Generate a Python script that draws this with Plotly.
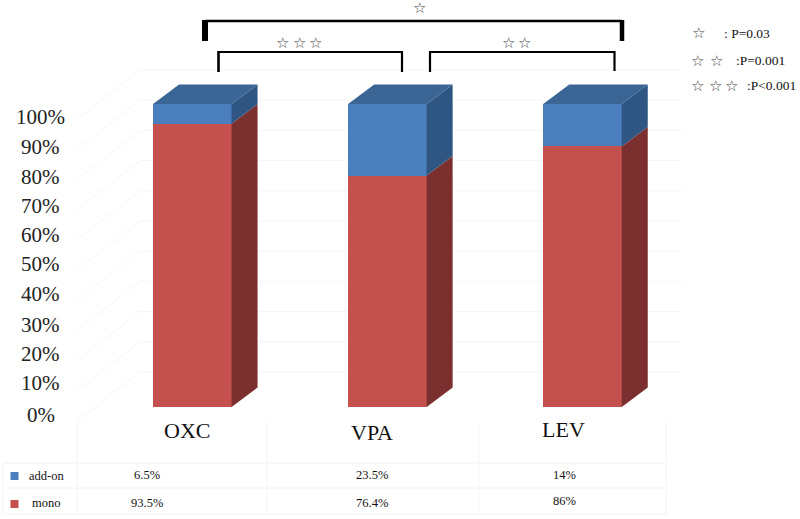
import plotly.graph_objects as go

# ---- data ----
categories = ["OXC", "VPA", "LEV"]
mono = [93.5, 76.4, 86.0]
add_on = [6.5, 23.6, 14.0]
mono_labels = ["93.5%", "76.4%", "86%"]
add_on_labels = ["6.5%", "23.5%", "14%"]
tick_values = [0, 10, 20, 30, 40, 50, 60, 70, 80, 90, 100]
tick_labels = ["0%", "10%", "20%", "30%", "40%", "50%", "60%", "70%", "80%", "90%", "100%"]

# ---- geometry / style ----
W, H = 800, 519
Y0_PX, Y_SCALE = 407.0, 3.03     # pixel of 0 %, pixels per percent
X0_PX, X_STEP = 192.3, 195.1     # pixel of first category, pixels per category
BAR_PX = 78.5
DEPTH_X_PX, DEPTH_Y_PX = 26.0, 19.5
TICK_LABEL_PX = [415, 383, 354, 325, 294, 264, 235, 206, 177, 147, 117]

RED, RED_SIDE = "#C4514E", "#7B2F2F"
BLUE, BLUE_SIDE, BLUE_TOP = "#4A7EBD", "#2F5682", "#3A6594"
SERIF = "Liberation Serif"

dx = DEPTH_X_PX / X_STEP
dy = DEPTH_Y_PX / Y_SCALE
half = BAR_PX / X_STEP / 2
xs = list(range(len(categories)))


def px(x):
    return x / W


def py(y):
    return 1 - y / H


def rect_poly(i, lo, hi):
    r = i + half
    return [r, r + dx, r + dx, r, r], [lo, lo + dy, hi + dy, hi, lo]


fig = go.Figure()

# side and top faces
for i in xs:
    total = mono[i] + add_on[i]
    for lo, hi, col in ((0, mono[i], RED_SIDE), (mono[i], total, BLUE_SIDE)):
        sx, sy = rect_poly(i, lo, hi)
        fig.add_trace(go.Scatter(x=sx, y=sy, mode="lines", fill="toself", fillcolor=col,
                                 line=dict(width=0, color=col), hoverinfo="skip", showlegend=False))
    l, r = i - half, i + half
    fig.add_trace(go.Scatter(x=[l, r, r + dx, l + dx, l], y=[total, total, total + dy, total + dy, total],
                             mode="lines", fill="toself", fillcolor=BLUE_TOP,
                             line=dict(width=0, color=BLUE_TOP), hoverinfo="skip", showlegend=False))

# front faces
fig.add_trace(go.Bar(x=xs, y=mono, name="mono", marker=dict(color=RED, line_width=0),
                     width=BAR_PX / X_STEP, showlegend=False))
fig.add_trace(go.Bar(x=xs, y=add_on, name="add-on", marker=dict(color=BLUE, line_width=0),
                     width=BAR_PX / X_STEP, showlegend=False))

shapes = []
GRID = "#F6F6F8"


def pline(x0, y0, x1, y1, color=GRID, width=1, layer="below"):
    shapes.append(dict(type="line", xref="paper", yref="paper", x0=px(x0), y0=py(y0), x1=px(x1), y1=py(y1),
                       line=dict(color=color, width=width), layer=layer))


# back wall gridlines and floor-to-wall diagonals
for v in tick_values:
    wall_y = 372 - v * 3.02
    pline(140, wall_y, 682, wall_y)
    pline(77, wall_y + 49, 140, wall_y)

# table rules
for y in (463, 488, 514):
    pline(3, y, 666, y, "#F0F2F8", 1)
for x in (77, 267, 479, 666):
    pline(x, 422, x, 514, "#F3F4F8", 1)
pline(3, 463, 3, 514, "#F3F4F8", 1)

# significance brackets
BK = "#000000"
pline(205, 21, 622, 21, BK, 2.5, "above")
pline(205, 41, 205, 20, BK, 6, "above")
pline(622, 41, 622, 20, BK, 4.5, "above")
pline(218.5, 52, 402, 52, BK, 2.2, "above")
pline(218.5, 72, 218.5, 51, BK, 2.6, "above")
pline(402, 72, 402, 51, BK, 2.2, "above")
pline(430, 52, 614.5, 52, BK, 2.2, "above")
pline(430, 72, 430, 51, BK, 2.2, "above")
pline(614.5, 71, 614.5, 51, BK, 2.2, "above")

# legend keys in table
for y, col in ((476, BLUE), (504, RED)):
    shapes.append(dict(type="rect", xref="paper", yref="paper", x0=px(10.5), x1=px(18.5), y0=py(y - 4), y1=py(y + 4),
                       fillcolor=col, line_width=0))

ann = []


def text(x, y, s, size, color="#222222", font=SERIF, anchor="center"):
    ann.append(dict(xref="paper", yref="paper", x=px(x), y=py(y), text=s, showarrow=False,
                    xanchor=anchor, yanchor="middle", font=dict(family=font, size=size, color=color)))


# value axis labels (centred in a column, as in the reference)
for lab, y in zip(tick_labels, TICK_LABEL_PX):
    text(40.5, y, lab, 21)

# category labels
for c, x, y in zip(categories, (187, 372, 563), (430, 432, 429)):
    text(x, y, c, 22, "#111111")

# table text
text(46, 476, "add-on", 12.5, "#111111")
text(46, 503, "mono", 12.5, "#111111")
for lab, x in zip(add_on_labels, (147, 372, 564)):
    text(x, 475, lab, 12.5, "#111111")
for lab, x, y in zip(mono_labels, (147, 372, 564), (503, 503, 501)):
    text(x, y, lab, 12.5, "#111111")

# stars
STAR = "<b>☆</b>"
for x, y in ((419, 8), (282, 43), (299, 43), (315, 43), (508, 43), (524, 43),
             (698, 33), (697, 61), (716, 61), (697, 86), (715, 86), (731, 86)):
    text(x, y, STAR, 15, "#444444", "DejaVu Sans")

# p-value key
text(722, 33, ": P=0.03", 13.5, "#111111", anchor="left")
text(734, 61, ":P=0.001", 13.5, "#111111", anchor="left")
text(745, 86, ":P<0.001", 13.5, "#111111", anchor="left")

fig.update_layout(
    width=W, height=H, barmode="stack", bargap=0,
    margin=dict(l=0, r=0, t=0, b=0),
    paper_bgcolor="white", plot_bgcolor="rgba(0,0,0,0)",
    hovermode=False,
    xaxis=dict(range=[-X0_PX / X_STEP, (W - X0_PX) / X_STEP], visible=False, fixedrange=True),
    yaxis=dict(range=[(Y0_PX - H) / Y_SCALE, Y0_PX / Y_SCALE], visible=False, fixedrange=True),
    shapes=shapes, annotations=ann,
)

fig.write_html("out.html", config=dict(displayModeBar=False),
               post_script="document.body.style.margin='0';document.documentElement.style.overflow='hidden';")
